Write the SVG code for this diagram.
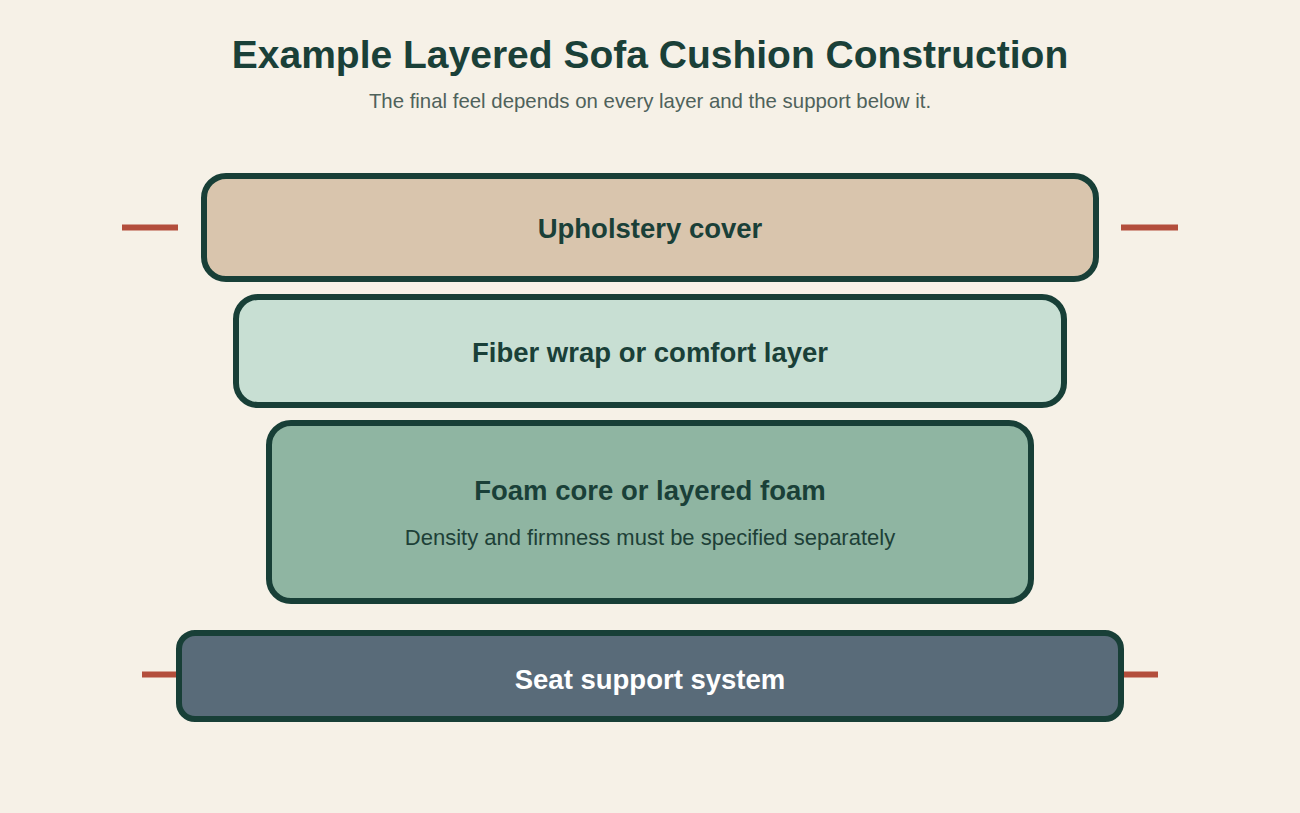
<svg xmlns="http://www.w3.org/2000/svg" width="1300" height="813" viewBox="0 0 1300 813">
<style>
.bg{fill:#f6f1e7}
.box{stroke:#183f37;stroke-width:6}
.tick{stroke:#b34e3c;stroke-width:6;fill:none}
.t{font-family:"Liberation Sans",Arial,sans-serif;text-anchor:middle}
.title{font-size:39px;font-weight:bold;fill:#1a4038}
.sub{font-size:20.4px;fill:#4f625b}
.lbl{font-size:27.5px;font-weight:bold;fill:#1a4038}
.note{font-size:22px;fill:#1d4037}
</style>
<rect class="bg" x="0" y="0" width="1300" height="813"/>
<text class="t title" x="650" y="68">Example Layered Sofa Cushion Construction</text>
<text class="t sub" x="650" y="108">The final feel depends on every layer and the support below it.</text>
<g id="connectors">
<line class="tick" x1="122" y1="227.5" x2="178" y2="227.5"/>
<line class="tick" x1="1121" y1="227.5" x2="1178" y2="227.5"/>
<line class="tick" x1="142" y1="674.5" x2="179" y2="674.5"/>
<line class="tick" x1="1121" y1="674.5" x2="1158" y2="674.5"/>
</g>
<g id="upholstery">
<rect class="box" x="204" y="176" width="892" height="103" rx="22" fill="#d9c5ad"/>
<text class="t lbl" x="650" y="238">Upholstery cover</text>
</g>
<g id="fiber">
<rect class="box" x="236" y="297" width="828" height="108" rx="22" fill="#c8dfd3"/>
<text class="t lbl" x="650" y="362">Fiber wrap or comfort layer</text>
</g>
<g id="foam">
<rect class="box" x="269" y="423" width="762" height="178" rx="22" fill="#8fb5a2"/>
<text class="t lbl" x="650" y="500">Foam core or layered foam</text>
<text class="t note" x="650" y="545">Density and firmness must be specified separately</text>
</g>
<g id="support">
<rect class="box" x="179" y="633" width="942" height="86" rx="16" fill="#596b79"/>
<text class="t lbl" x="650" y="689" style="fill:#ffffff">Seat support system</text>
</g>
</svg>
